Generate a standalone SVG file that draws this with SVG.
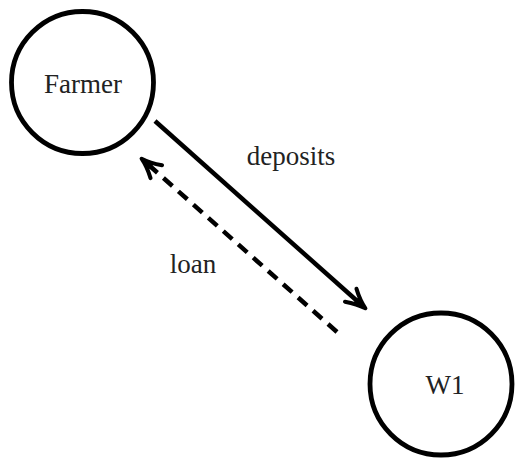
<svg xmlns="http://www.w3.org/2000/svg" width="516" height="460" viewBox="0 0 516 460">
<style>
.node{fill:none;stroke:#000;stroke-width:4.8}
.lbl{font-family:"Liberation Serif","DejaVu Serif",serif;font-size:27px;fill:#222;text-anchor:middle}
.edge{stroke:#000;stroke-width:4.5;fill:none}
.dash{stroke-dasharray:12 8}
</style>
<defs>
<marker id="ah" markerUnits="userSpaceOnUse" markerWidth="30" markerHeight="30" viewBox="-20 -10 26 20" refX="0" refY="0" orient="auto" overflow="visible">
<path d="M-14,-7.5 Q-5,-2 3,0 Q-5,2 -14,7.5" fill="none" stroke="#000" stroke-width="3.5" stroke-linecap="round" stroke-linejoin="round" stroke-dasharray="none"/>
<path d="M-8,-4 L3,0 L-8,4 Z" fill="#000" stroke="none"/>
</marker>
</defs>
<g id="farmer">
<circle class="node" cx="82.5" cy="82.5" r="71"/>
<text class="lbl" x="83" y="92.5">Farmer</text>
</g>
<g id="w1">
<circle class="node" cx="441" cy="384" r="71"/>
<text class="lbl" x="445" y="394">W1</text>
</g>
<g id="connectors">
<line class="edge" x1="155" y1="121" x2="362.8" y2="306" marker-end="url(#ah)"/>
<line class="edge dash" x1="337" y1="332" x2="144.2" y2="161" marker-end="url(#ah)"/>
<text class="lbl" x="291" y="165">deposits</text>
<text class="lbl" x="193" y="273">loan</text>
</g>
</svg>
